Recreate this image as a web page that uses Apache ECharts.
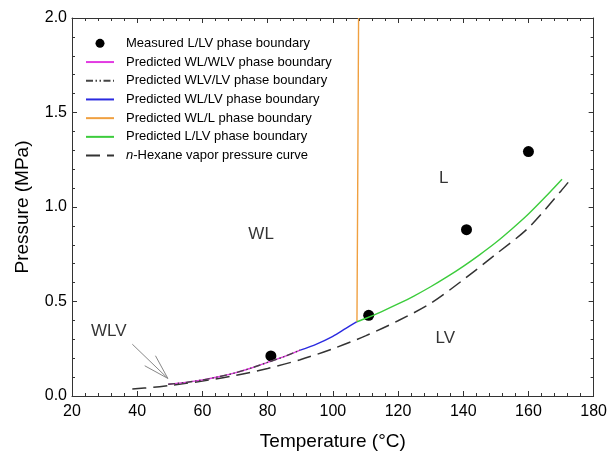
<!DOCTYPE html>
<html>
<head>
<meta charset="utf-8">
<script src="https://cdn.jsdelivr.net/npm/echarts@6/dist/echarts.min.js"></script>
<style>
html,body{margin:0;padding:0;background:#fff;}
#chart{width:610px;height:456px;}
</style>
</head>
<body>
<div id="chart"></div>
<script>
// ---- data ----
const measuredT = [81, 111, 141, 160];
const measuredP = [0.212, 0.427, 0.88, 1.293];

const wlwlvT = [49.5, 55, 60, 65, 70, 75, 80, 85, 90];
const wlwlvP = [0.062, 0.072, 0.085, 0.102, 0.122, 0.148, 0.178, 0.208, 0.243];

const wlvlvT = [49.5, 55, 60, 65, 70, 75, 80, 85, 90];
const wlvlvP = [0.062, 0.072, 0.085, 0.102, 0.122, 0.148, 0.178, 0.208, 0.243];

const wllvT = [90, 95, 100, 104, 107.4];
const wllvP = [0.243, 0.275, 0.316, 0.358, 0.393];

const wllT = [107.4, 107.6, 107.9];
const wllP = [0.393, 1.0, 2.0];

const llvT = [107.4, 110, 115, 120, 125, 130, 135, 140, 145, 150, 155, 160, 165, 170.3];
const llvP = [0.393, 0.41, 0.447, 0.487, 0.53, 0.578, 0.63, 0.686, 0.747, 0.812, 0.885, 0.963, 1.05, 1.147];

const hexT = [38.5, 45, 50, 60, 70, 80, 90, 100, 110, 120, 130, 140, 150, 160, 170, 172.6];
const hexP = [0.037, 0.046, 0.056, 0.079, 0.108, 0.146, 0.192, 0.25, 0.318, 0.398, 0.49, 0.615, 0.75, 0.89, 1.085, 1.139];

const regionNames = ['WL', 'L', 'LV', 'WLV'];
const regionT = [78, 134, 134.5, 31.3];
const regionP = [0.855, 1.15, 0.306, 0.343];

// annotation arrow (shaft + two barbs) for WLV
const arrowFromT = [38.5, 42.3, 45.6];
const arrowFromP = [0.274, 0.16, 0.213];
const arrowTipT = 49.4;
const arrowTipP = 0.093;

const xTicks = [20, 180, 20]; // min, max, interval
const yTicks = [0, 2, 0.5];

const legendNames = [
  'Measured L/LV phase boundary',
  'Predicted WL/WLV phase boundary',
  'Predicted WLV/LV phase boundary',
  'Predicted WL/LV phase boundary',
  'Predicted WL/L phase boundary',
  'Predicted L/LV phase boundary',
  'n-Hexane vapor pressure curve'
];

// ---- build ----
const zip = (a, b) => a.map((v, i) => [v, b[i]]);
const FONT = '"Liberation Sans", Arial, Helvetica, sans-serif';

const chart = echarts.init(document.getElementById('chart'), null, {renderer: 'canvas'});

const axisCommon = {
  axisLine: {show: true, onZero: false, lineStyle: {color: '#333', width: 1}},
  axisTick: {show: true, inside: true, length: 5, lineStyle: {color: '#333'}},
  minorTick: {show: true, splitNumber: 5, length: 3, lineStyle: {color: '#333'}},
  splitLine: {show: false},
  minorSplitLine: {show: false}
};

const lineBase = (name, t, p, color, type, width) => ({
  name: name, type: 'line', data: zip(t, p), showSymbol: false, symbol: 'none',
  smooth: 0.3, silent: true, animation: false,
  lineStyle: {color: color, width: width || 1.4, type: type || 'solid'},
  itemStyle: {color: color}
});

const option = {
  backgroundColor: '#fff',
  animation: false,
  textStyle: {fontFamily: FONT},
  grid: {left: 72, right: 14, top: 18, bottom: 60},
  legend: {
    orient: 'vertical', left: 85, top: 34, padding: 0,
    itemWidth: 28, itemHeight: 9, itemGap: 0,
    selectedMode: false,
    data: legendNames.map((n, i) => i === 0
      ? {name: n, itemStyle: {color: '#000', opacity: 1}}
      : {name: n, itemStyle: {color: 'rgba(0,0,0,0)', borderWidth: 0, opacity: 0}}),
    formatter: function (n) { return n.indexOf('n-') === 0 ? '{i|n}-' + n.slice(2) : n; },
    textStyle: {
      fontSize: 13, color: '#000', fontFamily: FONT, lineHeight: 18.7, padding: [0, 0, 0, 7],
      rich: {i: {fontStyle: 'italic', fontSize: 13, color: '#000', fontFamily: FONT, lineHeight: 18.7}}
    }
  },
  xAxis: [
    Object.assign({
      type: 'value', position: 'bottom', min: xTicks[0], max: xTicks[1], interval: xTicks[2],
      name: 'Temperature (°C)', nameLocation: 'middle', nameGap: 36,
      nameTextStyle: {fontSize: 19, color: '#000', fontFamily: FONT},
      axisLabel: {fontSize: 16, color: '#000', margin: 8, fontFamily: FONT}
    }, axisCommon),
    Object.assign({
      type: 'value', position: 'top', min: xTicks[0], max: xTicks[1], interval: xTicks[2],
      axisLabel: {show: false}
    }, axisCommon)
  ],
  yAxis: [
    Object.assign({
      type: 'value', position: 'left', min: yTicks[0], max: yTicks[1], interval: yTicks[2],
      name: 'Pressure (MPa)', nameLocation: 'middle', nameGap: 40,
      nameTextStyle: {fontSize: 19, color: '#000', fontFamily: FONT},
      axisLabel: {fontSize: 16, color: '#000', margin: 5, fontFamily: FONT,
        formatter: v => v.toFixed(1)}
    }, axisCommon),
    Object.assign({
      type: 'value', position: 'right', min: yTicks[0], max: yTicks[1], interval: yTicks[2],
      axisLabel: {show: false}
    }, axisCommon)
  ],
  series: [
    // annotation arrow lines
    {
      type: 'lines', coordinateSystem: 'cartesian2d', silent: true, animation: false,
      lineStyle: {color: '#888', width: 1, opacity: 1},
      data: arrowFromT.map((t, i) => ({coords: [[t, arrowFromP[i]], [arrowTipT, arrowTipP]]}))
    },
    lineBase(legendNames[6], hexT, hexP, '#333', [14, 7], 1.5),
    lineBase(legendNames[1], wlwlvT, wlwlvP, '#e23be2', 'solid', 1.4),
    lineBase(legendNames[2], wlvlvT, wlvlvP, '#444', [7, 2.5, 1.5, 2.5, 1.5, 2.5], 1.4),
    lineBase(legendNames[3], wllvT, wllvP, '#2a2ae0', 'solid', 1.4),
    lineBase(legendNames[4], wllT, wllP, '#f0a040', 'solid', 1.4),
    lineBase(legendNames[5], llvT, llvP, '#3ccc3c', 'solid', 1.4),
    {
      name: legendNames[0], type: 'scatter', data: zip(measuredT, measuredP),
      symbol: 'circle', symbolSize: 11, silent: true, animation: false,
      itemStyle: {color: '#000', opacity: 1}
    },
    {
      type: 'scatter', silent: true, animation: false, symbolSize: 0,
      data: regionNames.map((n, i) => ({name: n, value: [regionT[i], regionP[i]]})),
      label: {show: true, position: 'inside', formatter: '{b}', fontSize: 17, color: '#000', fontFamily: FONT},
      itemStyle: {color: 'rgba(0,0,0,0)'}
    }
  ]
};
chart.setOption(option);
</script>
</body>
</html>
